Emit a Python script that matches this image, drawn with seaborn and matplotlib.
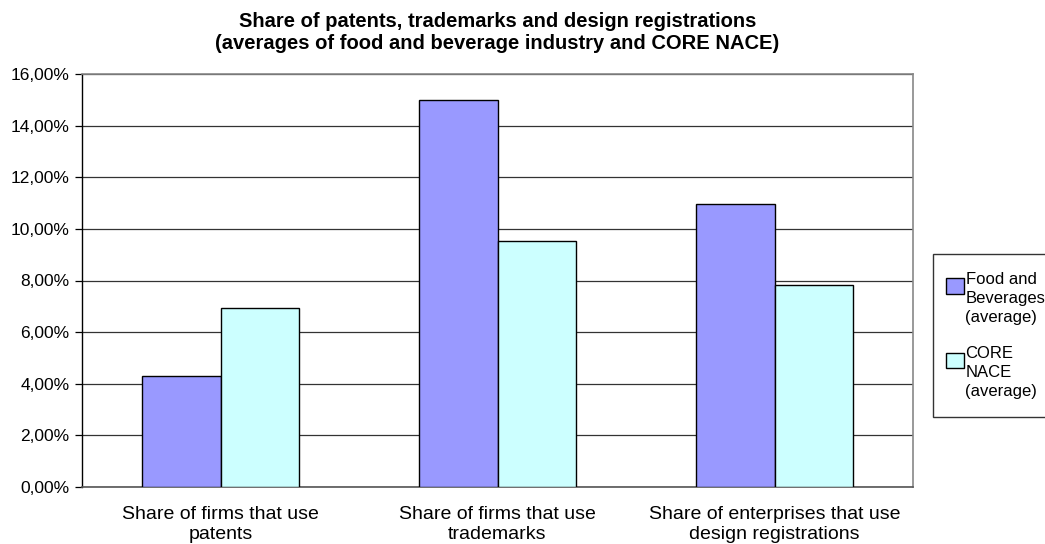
import matplotlib
matplotlib.use("Agg")
import matplotlib.pyplot as plt
import matplotlib.ticker as mticker
from matplotlib.patches import Rectangle
from matplotlib.legend_handler import HandlerPatch
import seaborn as sns
import pandas as pd

categories = [
    "Share of firms that use\npatents",
    "Share of firms that use\ntrademarks",
    "Share of enterprises that use\ndesign registrations",
]
series_names = ["Food and\nBeverages\n(average)", "CORE\nNACE\n(average)"]
food_bev = [4.30, 15.00, 10.95]
core_nace = [6.93, 9.52, 7.83]
y_ticks = [0, 2, 4, 6, 8, 10, 12, 14, 16]
palette = ["#9999FF", "#CCFFFF"]

sns.set_style("white")
plt.rcParams["font.family"] = ["Liberation Sans", "DejaVu Sans"]
plt.rcParams["text.color"] = "black"
plt.rcParams["xtick.color"] = "black"
plt.rcParams["ytick.color"] = "black"
plt.rcParams["axes.labelcolor"] = "black"

df = pd.DataFrame({
    "category": categories * 2,
    "series": [series_names[0]] * 3 + [series_names[1]] * 3,
    "value": food_bev + core_nace,
})

fig = plt.figure(figsize=(10.45, 5.44), dpi=100)
ax = fig.add_axes([82 / 1045, (544 - 487) / 544, (913 - 82) / 1045, (487 - 74) / 544])

sns.barplot(
    data=df, x="category", y="value", hue="series",
    order=categories, hue_order=series_names,
    palette=palette, width=0.57,
    edgecolor="black", linewidth=1.0, saturation=1, ax=ax, zorder=3,
)

ax.set_xlim(-0.5, 2.5)
ax.set_ylim(0, 16)
ax.set_yticks(y_ticks)
ax.yaxis.set_major_formatter(mticker.FuncFormatter(lambda v, p: f"{v:.2f}%".replace(".", ",")))
ax.yaxis.grid(True, color="#333333", linewidth=0.9, zorder=0)
ax.set_axisbelow(True)
ax.set_xlabel("")
ax.set_ylabel("")

# category labels centred, tick marks at the category boundaries
ax.set_xticks(range(len(categories)))
ax.set_xticklabels(categories, fontsize=14, linespacing=1.2)
ax.tick_params(axis="x", which="major", length=0, pad=14, labelcolor="black")
ax.set_xticks([0.5, 1.5], minor=True)
ax.tick_params(axis="x", which="minor", length=5, width=0.9, color="#333333", direction="out")
ax.tick_params(axis="y", which="major", length=5, width=0.9, color="black",
               direction="out", labelsize=12.5, pad=4, left=True, labelcolor="black")

for side in ["top", "right"]:
    ax.spines[side].set_visible(True)
    ax.spines[side].set_color("#888888")
    ax.spines[side].set_linewidth(1.2)
ax.spines["left"].set_color("black")
ax.spines["left"].set_linewidth(1.0)
ax.spines["bottom"].set_color("#555555")
ax.spines["bottom"].set_linewidth(1.2)

fig.text(
    (82 + 913) / 2 / 1045, 1 - 12 / 544,
    "Share of patents, trademarks and design registrations\n(averages of food and beverage industry and CORE NACE)",
    fontsize=14.5, fontweight="bold", ha="center", va="top", linespacing=1.2, color="black",
)


def top_square(legend, orig_handle, xdescent, ydescent, width, height, fontsize):
    # small square aligned with the first text line of a multi-line label
    s = 11
    return Rectangle((-xdescent + width - s - 3, -ydescent + height - s - 1), s + 2, s)


handles, labels = ax.get_legend_handles_labels()
ax.get_legend().remove()
leg = fig.legend(
    handles, labels, loc="upper left", bbox_to_anchor=(933 / 1045, 1 - 254 / 544),
    fontsize=12, frameon=True, fancybox=False, edgecolor="black",
    handlelength=0.9, handleheight=3.8, handletextpad=0.0, labelspacing=1.25,
    borderpad=1.05, borderaxespad=0,
    handler_map={h: HandlerPatch(patch_func=top_square) for h in handles},
)
leg.get_frame().set_linewidth(1.0)
for t in leg.get_texts():
    t.set_linespacing(1.35)
    t.set_color("black")

fig.savefig("out.png", dpi=100, facecolor="white")
